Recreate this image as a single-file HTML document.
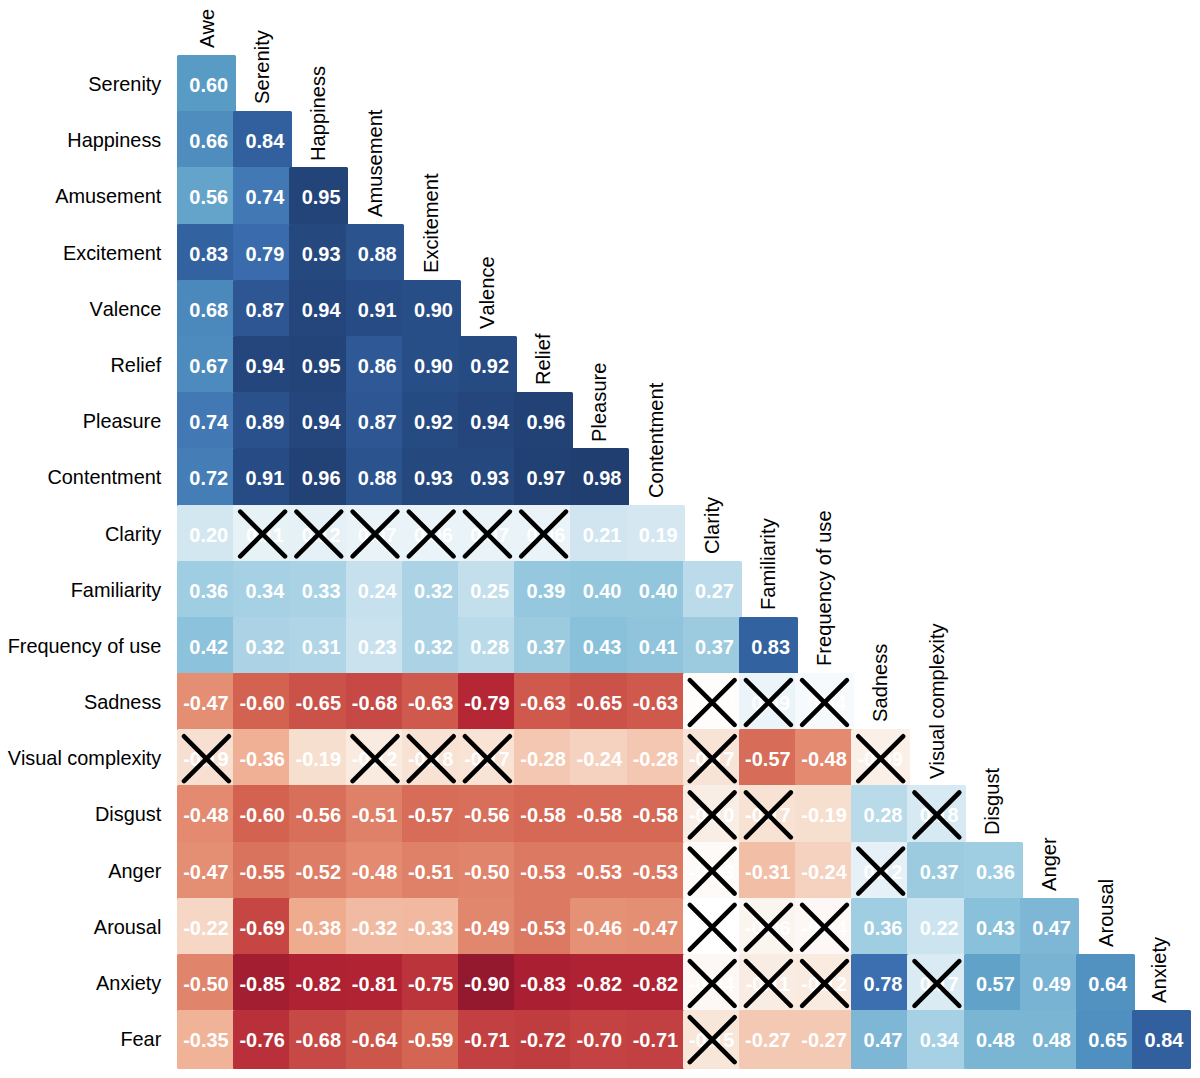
<!DOCTYPE html>
<html><head><meta charset="utf-8"><title>Correlation matrix</title>
<style>
html,body{margin:0;padding:0;background:#fff;}
body{width:1200px;height:1078px;position:relative;overflow:hidden;font-family:"Liberation Sans",sans-serif;}
.c{position:absolute;width:58.90px;height:58.90px;border-radius:1.5px;color:#fff;font-weight:bold;font-size:19.95px;line-height:60.90px;text-align:center;white-space:nowrap;white-space:pre;}
.r{position:absolute;right:1038.70px;height:56.19px;line-height:56.19px;font-size:19.90px;color:#111;white-space:nowrap;text-align:right;color:#000;font-kerning:none;transform:scaleY(1.025);}
.v{position:absolute;height:56.19px;line-height:56.19px;font-size:20.15px;color:#111;white-space:nowrap;transform-origin:0 0;transform:rotate(-90deg);color:#000;font-kerning:none;}
.c span{display:inline-block;white-space:pre;transform:translateX(-0.5px) scaleY(1.03);}
svg{position:absolute;left:0;top:0;}
</style></head><body>
<div class="c" style="left:177.00px;top:55.00px;background:rgb(88,156,198)"><span> 0.60</span></div>
<div class="c" style="left:177.00px;top:111.19px;background:rgb(78,141,190)"><span> 0.66</span></div>
<div class="c" style="left:233.19px;top:111.19px;background:rgb(50,95,158)"><span> 0.84</span></div>
<div class="c" style="left:177.00px;top:167.38px;background:rgb(100,164,203)"><span> 0.56</span></div>
<div class="c" style="left:233.19px;top:167.38px;background:rgb(66,121,180)"><span> 0.74</span></div>
<div class="c" style="left:289.38px;top:167.38px;background:rgb(35,68,121)"><span> 0.95</span></div>
<div class="c" style="left:177.00px;top:223.57px;background:rgb(51,98,161)"><span> 0.83</span></div>
<div class="c" style="left:233.19px;top:223.57px;background:rgb(58,108,173)"><span> 0.79</span></div>
<div class="c" style="left:289.38px;top:223.57px;background:rgb(37,72,127)"><span> 0.93</span></div>
<div class="c" style="left:345.57px;top:223.57px;background:rgb(43,84,143)"><span> 0.88</span></div>
<div class="c" style="left:177.00px;top:279.76px;background:rgb(75,136,188)"><span> 0.68</span></div>
<div class="c" style="left:233.19px;top:279.76px;background:rgb(45,86,147)"><span> 0.87</span></div>
<div class="c" style="left:289.38px;top:279.76px;background:rgb(36,70,124)"><span> 0.94</span></div>
<div class="c" style="left:345.57px;top:279.76px;background:rgb(39,76,133)"><span> 0.91</span></div>
<div class="c" style="left:401.76px;top:279.76px;background:rgb(40,78,136)"><span> 0.90</span></div>
<div class="c" style="left:177.00px;top:335.95px;background:rgb(77,138,189)"><span> 0.67</span></div>
<div class="c" style="left:233.19px;top:335.95px;background:rgb(36,70,124)"><span> 0.94</span></div>
<div class="c" style="left:289.38px;top:335.95px;background:rgb(35,68,121)"><span> 0.95</span></div>
<div class="c" style="left:345.57px;top:335.95px;background:rgb(46,89,150)"><span> 0.86</span></div>
<div class="c" style="left:401.76px;top:335.95px;background:rgb(40,78,136)"><span> 0.90</span></div>
<div class="c" style="left:457.95px;top:335.95px;background:rgb(38,74,130)"><span> 0.92</span></div>
<div class="c" style="left:177.00px;top:392.14px;background:rgb(66,121,180)"><span> 0.74</span></div>
<div class="c" style="left:233.19px;top:392.14px;background:rgb(42,81,140)"><span> 0.89</span></div>
<div class="c" style="left:289.38px;top:392.14px;background:rgb(36,70,124)"><span> 0.94</span></div>
<div class="c" style="left:345.57px;top:392.14px;background:rgb(45,86,147)"><span> 0.87</span></div>
<div class="c" style="left:401.76px;top:392.14px;background:rgb(38,74,130)"><span> 0.92</span></div>
<div class="c" style="left:457.95px;top:392.14px;background:rgb(36,70,124)"><span> 0.94</span></div>
<div class="c" style="left:514.14px;top:392.14px;background:rgb(34,66,118)"><span> 0.96</span></div>
<div class="c" style="left:177.00px;top:448.33px;background:rgb(69,126,182)"><span> 0.72</span></div>
<div class="c" style="left:233.19px;top:448.33px;background:rgb(39,76,133)"><span> 0.91</span></div>
<div class="c" style="left:289.38px;top:448.33px;background:rgb(34,66,118)"><span> 0.96</span></div>
<div class="c" style="left:345.57px;top:448.33px;background:rgb(43,84,143)"><span> 0.88</span></div>
<div class="c" style="left:401.76px;top:448.33px;background:rgb(37,72,127)"><span> 0.93</span></div>
<div class="c" style="left:457.95px;top:448.33px;background:rgb(37,72,127)"><span> 0.93</span></div>
<div class="c" style="left:514.14px;top:448.33px;background:rgb(33,64,115)"><span> 0.97</span></div>
<div class="c" style="left:570.33px;top:448.33px;background:rgb(32,62,112)"><span> 0.98</span></div>
<div class="c" style="left:177.00px;top:504.52px;background:rgb(211,231,241)"><span> 0.20</span></div>
<div class="c" style="left:233.19px;top:504.52px;background:rgb(231,242,247)"><span> 0.11</span></div>
<div class="c" style="left:289.38px;top:504.52px;background:rgb(229,241,247)"><span> 0.12</span></div>
<div class="c" style="left:345.57px;top:504.52px;background:rgb(233,243,248)"><span> 0.07</span></div>
<div class="c" style="left:401.76px;top:504.52px;background:rgb(233,243,248)"><span> 0.06</span></div>
<div class="c" style="left:457.95px;top:504.52px;background:rgb(233,243,248)"><span> 0.07</span></div>
<div class="c" style="left:514.14px;top:504.52px;background:rgb(233,243,248)"><span> 0.06</span></div>
<div class="c" style="left:570.33px;top:504.52px;background:rgb(208,229,240)"><span> 0.21</span></div>
<div class="c" style="left:626.52px;top:504.52px;background:rgb(213,232,242)"><span> 0.19</span></div>
<div class="c" style="left:177.00px;top:560.71px;background:rgb(159,205,225)"><span> 0.36</span></div>
<div class="c" style="left:233.19px;top:560.71px;background:rgb(166,208,227)"><span> 0.34</span></div>
<div class="c" style="left:289.38px;top:560.71px;background:rgb(169,210,228)"><span> 0.33</span></div>
<div class="c" style="left:345.57px;top:560.71px;background:rgb(198,224,237)"><span> 0.24</span></div>
<div class="c" style="left:401.76px;top:560.71px;background:rgb(172,211,229)"><span> 0.32</span></div>
<div class="c" style="left:457.95px;top:560.71px;background:rgb(195,223,236)"><span> 0.25</span></div>
<div class="c" style="left:514.14px;top:560.71px;background:rgb(149,200,222)"><span> 0.39</span></div>
<div class="c" style="left:570.33px;top:560.71px;background:rgb(146,198,221)"><span> 0.40</span></div>
<div class="c" style="left:626.52px;top:560.71px;background:rgb(146,198,221)"><span> 0.40</span></div>
<div class="c" style="left:682.71px;top:560.71px;background:rgb(188,219,234)"><span> 0.27</span></div>
<div class="c" style="left:177.00px;top:616.90px;background:rgb(140,194,219)"><span> 0.42</span></div>
<div class="c" style="left:233.19px;top:616.90px;background:rgb(172,211,229)"><span> 0.32</span></div>
<div class="c" style="left:289.38px;top:616.90px;background:rgb(175,213,230)"><span> 0.31</span></div>
<div class="c" style="left:345.57px;top:616.90px;background:rgb(201,226,238)"><span> 0.23</span></div>
<div class="c" style="left:401.76px;top:616.90px;background:rgb(172,211,229)"><span> 0.32</span></div>
<div class="c" style="left:457.95px;top:616.90px;background:rgb(185,218,233)"><span> 0.28</span></div>
<div class="c" style="left:514.14px;top:616.90px;background:rgb(156,203,224)"><span> 0.37</span></div>
<div class="c" style="left:570.33px;top:616.90px;background:rgb(137,192,218)"><span> 0.43</span></div>
<div class="c" style="left:626.52px;top:616.90px;background:rgb(143,196,220)"><span> 0.41</span></div>
<div class="c" style="left:682.71px;top:616.90px;background:rgb(156,203,224)"><span> 0.37</span></div>
<div class="c" style="left:738.90px;top:616.90px;background:rgb(51,98,161)"><span> 0.83</span></div>
<div class="c" style="left:177.00px;top:673.09px;background:rgb(228,142,116)"><span>-0.47</span></div>
<div class="c" style="left:233.19px;top:673.09px;background:rgb(211,98,80)"><span>-0.60</span></div>
<div class="c" style="left:289.38px;top:673.09px;background:rgb(203,82,73)"><span>-0.65</span></div>
<div class="c" style="left:345.57px;top:673.09px;background:rgb(199,73,69)"><span>-0.68</span></div>
<div class="c" style="left:401.76px;top:673.09px;background:rgb(206,89,76)"><span>-0.63</span></div>
<div class="c" style="left:457.95px;top:673.09px;background:rgb(182,39,53)"><span>-0.79</span></div>
<div class="c" style="left:514.14px;top:673.09px;background:rgb(206,89,76)"><span>-0.63</span></div>
<div class="c" style="left:570.33px;top:673.09px;background:rgb(203,82,73)"><span>-0.65</span></div>
<div class="c" style="left:626.52px;top:673.09px;background:rgb(206,89,76)"><span>-0.63</span></div>
<div class="c" style="left:682.71px;top:673.09px;background:rgb(254,253,252)"><span> 0.00</span></div>
<div class="c" style="left:738.90px;top:673.09px;background:rgb(235,244,249)"><span> 0.09</span></div>
<div class="c" style="left:795.09px;top:673.09px;background:rgb(246,250,252)"><span> 0.04</span></div>
<div class="c" style="left:177.00px;top:729.28px;background:rgb(247,224,210)"><span>-0.19</span></div>
<div class="c" style="left:233.19px;top:729.28px;background:rgb(239,176,149)"><span>-0.36</span></div>
<div class="c" style="left:289.38px;top:729.28px;background:rgb(247,223,207)"><span>-0.19</span></div>
<div class="c" style="left:345.57px;top:729.28px;background:rgb(249,235,224)"><span>-0.12</span></div>
<div class="c" style="left:401.76px;top:729.28px;background:rgb(248,226,212)"><span>-0.18</span></div>
<div class="c" style="left:457.95px;top:729.28px;background:rgb(248,227,213)"><span>-0.17</span></div>
<div class="c" style="left:514.14px;top:729.28px;background:rgb(243,199,177)"><span>-0.28</span></div>
<div class="c" style="left:570.33px;top:729.28px;background:rgb(245,210,191)"><span>-0.24</span></div>
<div class="c" style="left:626.52px;top:729.28px;background:rgb(243,199,177)"><span>-0.28</span></div>
<div class="c" style="left:682.71px;top:729.28px;background:rgb(248,228,215)"><span>-0.17</span></div>
<div class="c" style="left:738.90px;top:729.28px;background:rgb(215,108,88)"><span>-0.57</span></div>
<div class="c" style="left:795.09px;top:729.28px;background:rgb(227,138,113)"><span>-0.48</span></div>
<div class="c" style="left:851.28px;top:729.28px;background:rgb(250,240,232)"><span>-0.09</span></div>
<div class="c" style="left:177.00px;top:785.47px;background:rgb(227,138,113)"><span>-0.48</span></div>
<div class="c" style="left:233.19px;top:785.47px;background:rgb(211,98,80)"><span>-0.60</span></div>
<div class="c" style="left:289.38px;top:785.47px;background:rgb(216,111,91)"><span>-0.56</span></div>
<div class="c" style="left:345.57px;top:785.47px;background:rgb(223,128,105)"><span>-0.51</span></div>
<div class="c" style="left:401.76px;top:785.47px;background:rgb(215,108,88)"><span>-0.57</span></div>
<div class="c" style="left:457.95px;top:785.47px;background:rgb(216,111,91)"><span>-0.56</span></div>
<div class="c" style="left:514.14px;top:785.47px;background:rgb(214,105,86)"><span>-0.58</span></div>
<div class="c" style="left:570.33px;top:785.47px;background:rgb(214,105,86)"><span>-0.58</span></div>
<div class="c" style="left:626.52px;top:785.47px;background:rgb(214,105,86)"><span>-0.58</span></div>
<div class="c" style="left:682.71px;top:785.47px;background:rgb(249,238,229)"><span>-0.10</span></div>
<div class="c" style="left:738.90px;top:785.47px;background:rgb(248,226,212)"><span>-0.17</span></div>
<div class="c" style="left:795.09px;top:785.47px;background:rgb(247,223,207)"><span>-0.19</span></div>
<div class="c" style="left:851.28px;top:785.47px;background:rgb(185,218,233)"><span> 0.28</span></div>
<div class="c" style="left:907.47px;top:785.47px;background:rgb(215,233,242)"><span> 0.18</span></div>
<div class="c" style="left:177.00px;top:841.66px;background:rgb(228,142,116)"><span>-0.47</span></div>
<div class="c" style="left:233.19px;top:841.66px;background:rgb(218,115,94)"><span>-0.55</span></div>
<div class="c" style="left:289.38px;top:841.66px;background:rgb(221,125,102)"><span>-0.52</span></div>
<div class="c" style="left:345.57px;top:841.66px;background:rgb(227,138,113)"><span>-0.48</span></div>
<div class="c" style="left:401.76px;top:841.66px;background:rgb(223,128,105)"><span>-0.51</span></div>
<div class="c" style="left:457.95px;top:841.66px;background:rgb(224,132,108)"><span>-0.50</span></div>
<div class="c" style="left:514.14px;top:841.66px;background:rgb(220,121,99)"><span>-0.53</span></div>
<div class="c" style="left:570.33px;top:841.66px;background:rgb(220,121,99)"><span>-0.53</span></div>
<div class="c" style="left:626.52px;top:841.66px;background:rgb(220,121,99)"><span>-0.53</span></div>
<div class="c" style="left:682.71px;top:841.66px;background:rgb(253,250,247)"><span>-0.03</span></div>
<div class="c" style="left:738.90px;top:841.66px;background:rgb(242,190,166)"><span>-0.31</span></div>
<div class="c" style="left:795.09px;top:841.66px;background:rgb(245,210,191)"><span>-0.24</span></div>
<div class="c" style="left:851.28px;top:841.66px;background:rgb(229,241,247)"><span> 0.12</span></div>
<div class="c" style="left:907.47px;top:841.66px;background:rgb(156,203,224)"><span> 0.37</span></div>
<div class="c" style="left:963.66px;top:841.66px;background:rgb(159,205,225)"><span> 0.36</span></div>
<div class="c" style="left:177.00px;top:897.85px;background:rgb(246,215,198)"><span>-0.22</span></div>
<div class="c" style="left:233.19px;top:897.85px;background:rgb(197,70,67)"><span>-0.69</span></div>
<div class="c" style="left:289.38px;top:897.85px;background:rgb(238,171,142)"><span>-0.38</span></div>
<div class="c" style="left:345.57px;top:897.85px;background:rgb(241,187,163)"><span>-0.32</span></div>
<div class="c" style="left:401.76px;top:897.85px;background:rgb(240,185,160)"><span>-0.33</span></div>
<div class="c" style="left:457.95px;top:897.85px;background:rgb(225,135,110)"><span>-0.49</span></div>
<div class="c" style="left:514.14px;top:897.85px;background:rgb(220,121,99)"><span>-0.53</span></div>
<div class="c" style="left:570.33px;top:897.85px;background:rgb(229,145,118)"><span>-0.46</span></div>
<div class="c" style="left:626.52px;top:897.85px;background:rgb(228,142,116)"><span>-0.47</span></div>
<div class="c" style="left:682.71px;top:897.85px;background:rgb(255,255,255)"><span> 0.00</span></div>
<div class="c" style="left:738.90px;top:897.85px;background:rgb(251,245,239)"><span>-0.06</span></div>
<div class="c" style="left:795.09px;top:897.85px;background:rgb(253,248,245)"><span>-0.04</span></div>
<div class="c" style="left:851.28px;top:897.85px;background:rgb(159,205,225)"><span> 0.36</span></div>
<div class="c" style="left:907.47px;top:897.85px;background:rgb(204,228,239)"><span> 0.22</span></div>
<div class="c" style="left:963.66px;top:897.85px;background:rgb(137,192,218)"><span> 0.43</span></div>
<div class="c" style="left:1019.85px;top:897.85px;background:rgb(126,183,213)"><span> 0.47</span></div>
<div class="c" style="left:177.00px;top:954.04px;background:rgb(224,132,108)"><span>-0.50</span></div>
<div class="c" style="left:233.19px;top:954.04px;background:rgb(164,30,49)"><span>-0.85</span></div>
<div class="c" style="left:289.38px;top:954.04px;background:rgb(174,34,51)"><span>-0.82</span></div>
<div class="c" style="left:345.57px;top:954.04px;background:rgb(177,35,51)"><span>-0.81</span></div>
<div class="c" style="left:401.76px;top:954.04px;background:rgb(188,52,59)"><span>-0.75</span></div>
<div class="c" style="left:457.95px;top:954.04px;background:rgb(148,24,46)"><span>-0.90</span></div>
<div class="c" style="left:514.14px;top:954.04px;background:rgb(170,32,50)"><span>-0.83</span></div>
<div class="c" style="left:570.33px;top:954.04px;background:rgb(174,34,51)"><span>-0.82</span></div>
<div class="c" style="left:626.52px;top:954.04px;background:rgb(174,34,51)"><span>-0.82</span></div>
<div class="c" style="left:682.71px;top:954.04px;background:rgb(253,248,245)"><span>-0.04</span></div>
<div class="c" style="left:738.90px;top:954.04px;background:rgb(249,236,227)"><span>-0.11</span></div>
<div class="c" style="left:795.09px;top:954.04px;background:rgb(249,235,224)"><span>-0.12</span></div>
<div class="c" style="left:851.28px;top:954.04px;background:rgb(59,111,175)"><span> 0.78</span></div>
<div class="c" style="left:907.47px;top:954.04px;background:rgb(218,235,243)"><span> 0.17</span></div>
<div class="c" style="left:963.66px;top:954.04px;background:rgb(97,162,201)"><span> 0.57</span></div>
<div class="c" style="left:1019.85px;top:954.04px;background:rgb(120,179,211)"><span> 0.49</span></div>
<div class="c" style="left:1076.04px;top:954.04px;background:rgb(82,146,193)"><span> 0.64</span></div>
<div class="c" style="left:177.00px;top:1010.23px;background:rgb(240,179,152)"><span>-0.35</span></div>
<div class="c" style="left:233.19px;top:1010.23px;background:rgb(186,48,58)"><span>-0.76</span></div>
<div class="c" style="left:289.38px;top:1010.23px;background:rgb(199,73,69)"><span>-0.68</span></div>
<div class="c" style="left:345.57px;top:1010.23px;background:rgb(205,86,74)"><span>-0.64</span></div>
<div class="c" style="left:401.76px;top:1010.23px;background:rgb(212,101,83)"><span>-0.59</span></div>
<div class="c" style="left:457.95px;top:1010.23px;background:rgb(194,64,65)"><span>-0.71</span></div>
<div class="c" style="left:514.14px;top:1010.23px;background:rgb(192,61,63)"><span>-0.72</span></div>
<div class="c" style="left:570.33px;top:1010.23px;background:rgb(196,67,66)"><span>-0.70</span></div>
<div class="c" style="left:626.52px;top:1010.23px;background:rgb(194,64,65)"><span>-0.71</span></div>
<div class="c" style="left:682.71px;top:1010.23px;background:rgb(248,230,217)"><span>-0.15</span></div>
<div class="c" style="left:738.90px;top:1010.23px;background:rgb(244,201,180)"><span>-0.27</span></div>
<div class="c" style="left:795.09px;top:1010.23px;background:rgb(244,201,180)"><span>-0.27</span></div>
<div class="c" style="left:851.28px;top:1010.23px;background:rgb(126,183,213)"><span> 0.47</span></div>
<div class="c" style="left:907.47px;top:1010.23px;background:rgb(166,208,227)"><span> 0.34</span></div>
<div class="c" style="left:963.66px;top:1010.23px;background:rgb(123,181,212)"><span> 0.48</span></div>
<div class="c" style="left:1019.85px;top:1010.23px;background:rgb(123,181,212)"><span> 0.48</span></div>
<div class="c" style="left:1076.04px;top:1010.23px;background:rgb(80,144,192)"><span> 0.65</span></div>
<div class="c" style="left:1132.23px;top:1010.23px;background:rgb(50,95,158)"><span> 0.84</span></div>
<div class="r" style="top:56.00px">Serenity</div>
<div class="r" style="top:112.19px">Happiness</div>
<div class="r" style="top:168.38px">Amusement</div>
<div class="r" style="top:224.57px">Excitement</div>
<div class="r" style="top:280.76px">Valence</div>
<div class="r" style="top:336.95px">Relief</div>
<div class="r" style="top:393.14px">Pleasure</div>
<div class="r" style="top:449.33px">Contentment</div>
<div class="r" style="top:505.52px">Clarity</div>
<div class="r" style="top:561.71px">Familiarity</div>
<div class="r" style="top:617.90px">Frequency of use</div>
<div class="r" style="top:674.09px">Sadness</div>
<div class="r" style="top:730.28px">Visual complexity</div>
<div class="r" style="top:786.47px">Disgust</div>
<div class="r" style="top:842.66px">Anger</div>
<div class="r" style="top:898.85px">Arousal</div>
<div class="r" style="top:955.04px">Anxiety</div>
<div class="r" style="top:1011.23px">Fear</div>
<div class="v" style="left:178.70px;top:48.20px">Awe</div>
<div class="v" style="left:234.29px;top:104.39px">Serenity</div>
<div class="v" style="left:290.49px;top:160.58px">Happiness</div>
<div class="v" style="left:346.67px;top:216.77px">Amusement</div>
<div class="v" style="left:402.87px;top:272.96px">Excitement</div>
<div class="v" style="left:459.05px;top:329.15px">Valence</div>
<div class="v" style="left:515.25px;top:385.34px">Relief</div>
<div class="v" style="left:571.43px;top:441.53px">Pleasure</div>
<div class="v" style="left:628.12px;top:497.72px">Contentment</div>
<div class="v" style="left:683.82px;top:553.91px">Clarity</div>
<div class="v" style="left:740.00px;top:610.10px">Familiarity</div>
<div class="v" style="left:796.19px;top:666.29px">Frequency of use</div>
<div class="v" style="left:852.38px;top:722.48px">Sadness</div>
<div class="v" style="left:908.58px;top:778.67px">Visual complexity</div>
<div class="v" style="left:964.26px;top:834.86px">Disgust</div>
<div class="v" style="left:1020.65px;top:891.05px">Anger</div>
<div class="v" style="left:1078.14px;top:947.24px">Arousal</div>
<div class="v" style="left:1131.34px;top:1003.43px">Anxiety</div>
<svg width="1200" height="1078" viewBox="0 0 1200 1078"><g stroke="#000" stroke-width="4.60" stroke-linecap="round" fill="none">
<path d="M240.2 511.6L285.0 556.4M240.2 556.4L285.0 511.6"/>
<path d="M296.4 511.6L341.2 556.4M296.4 556.4L341.2 511.6"/>
<path d="M352.6 511.6L397.4 556.4M352.6 556.4L397.4 511.6"/>
<path d="M408.8 511.6L453.6 556.4M408.8 556.4L453.6 511.6"/>
<path d="M465.0 511.6L509.8 556.4M465.0 556.4L509.8 511.6"/>
<path d="M521.2 511.6L566.0 556.4M521.2 556.4L566.0 511.6"/>
<path d="M689.8 680.1L734.6 724.9M689.8 724.9L734.6 680.1"/>
<path d="M746.0 680.1L790.8 724.9M746.0 724.9L790.8 680.1"/>
<path d="M802.1 680.1L846.9 724.9M802.1 724.9L846.9 680.1"/>
<path d="M184.0 736.3L228.8 781.1M184.0 781.1L228.8 736.3"/>
<path d="M352.6 736.3L397.4 781.1M352.6 781.1L397.4 736.3"/>
<path d="M408.8 736.3L453.6 781.1M408.8 781.1L453.6 736.3"/>
<path d="M465.0 736.3L509.8 781.1M465.0 781.1L509.8 736.3"/>
<path d="M689.8 736.3L734.6 781.1M689.8 781.1L734.6 736.3"/>
<path d="M858.3 736.3L903.1 781.1M858.3 781.1L903.1 736.3"/>
<path d="M689.8 792.5L734.6 837.3M689.8 837.3L734.6 792.5"/>
<path d="M746.0 792.5L790.8 837.3M746.0 837.3L790.8 792.5"/>
<path d="M914.5 792.5L959.3 837.3M914.5 837.3L959.3 792.5"/>
<path d="M689.8 848.7L734.6 893.5M689.8 893.5L734.6 848.7"/>
<path d="M858.3 848.7L903.1 893.5M858.3 893.5L903.1 848.7"/>
<path d="M689.8 904.9L734.6 949.7M689.8 949.7L734.6 904.9"/>
<path d="M746.0 904.9L790.8 949.7M746.0 949.7L790.8 904.9"/>
<path d="M802.1 904.9L846.9 949.7M802.1 949.7L846.9 904.9"/>
<path d="M689.8 961.1L734.6 1005.9M689.8 1005.9L734.6 961.1"/>
<path d="M746.0 961.1L790.8 1005.9M746.0 1005.9L790.8 961.1"/>
<path d="M802.1 961.1L846.9 1005.9M802.1 1005.9L846.9 961.1"/>
<path d="M914.5 961.1L959.3 1005.9M914.5 1005.9L959.3 961.1"/>
<path d="M689.8 1017.3L734.6 1062.1M689.8 1062.1L734.6 1017.3"/>
</g></svg>
</body></html>
